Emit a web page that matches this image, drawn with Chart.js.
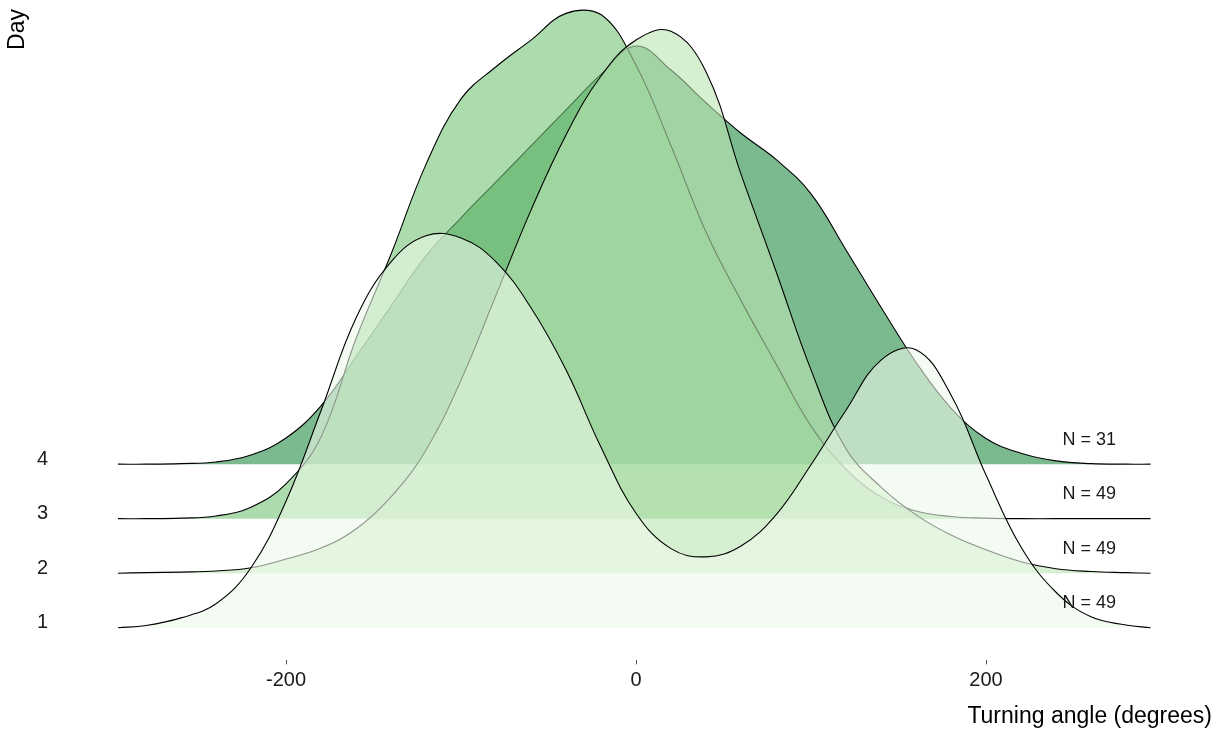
<!DOCTYPE html>
<html>
<head>
<meta charset="utf-8">
<script src="https://cdn.jsdelivr.net/npm/chart.js@4.4.1/dist/chart.umd.min.js"></script>
<style>
  html, body { margin: 0; padding: 0; background: #fff; }
  canvas { display: block; }
</style>
</head>
<body>
<canvas id="ridges" width="1225" height="733"></canvas>
<script>
// Turning angle grid (degrees) shared by every ridge
const angles = [-296, -280, -260, -240, -220, -200, -180, -160, -140, -120, -100, -80, -60, -40, -20,
                0, 20, 40, 60, 80, 100, 120, 140, 160, 180, 200, 220, 240, 260, 280, 294];

// Day categories (bottom to top)
const days = ['1', '2', '3', '4'];

// Scaled density heights above each day's baseline
const day1 = [0.0, 0.04, 0.18, 0.44, 1.10, 2.32, 3.98, 5.68, 6.71, 7.19, 7.15, 6.71, 5.87, 4.73, 3.31,
              2.10, 1.45, 1.30, 1.50, 2.07, 2.99, 3.99, 4.91, 5.10, 4.27, 2.80, 1.48, 0.65, 0.20, 0.05, 0.0];
const day2 = [0.0, 0.01, 0.02, 0.04, 0.10, 0.26, 0.46, 0.81, 1.40, 2.26, 3.54, 5.10, 6.66, 8.04, 9.12,
              9.78, 9.94, 9.20, 7.32, 5.54, 3.73, 2.28, 1.58, 1.07, 0.70, 0.43, 0.21, 0.08, 0.03, 0.01, 0.0];
const day3 = [0.0, 0.0, 0.01, 0.05, 0.21, 0.64, 1.50, 3.30, 4.85, 6.50, 7.70, 8.29, 8.78, 9.27, 9.25,
              8.32, 6.84, 5.26, 4.00, 2.84, 1.70, 0.91, 0.40, 0.14, 0.04, 0.01, 0.0, 0.0, 0.0, 0.0, 0.0];
const day4 = [0.0, 0.0, 0.01, 0.04, 0.17, 0.48, 1.07, 1.97, 2.90, 3.82, 4.52, 5.18, 5.84, 6.50, 7.15,
              7.67, 7.23, 6.63, 6.07, 5.59, 4.96, 3.93, 2.88, 1.87, 1.03, 0.47, 0.20, 0.06, 0.01, 0.0, 0.0];

// Number of observations per day
const sampleSizes = [49, 49, 49, 31];

// x-axis tick values
const xTicks = [-200, 0, 200];

const densities = [day1, day2, day3, day4];
const fillColors = [
  'rgba(237, 248, 233, 0.6)',
  'rgba(186, 228, 179, 0.6)',
  'rgba(116, 196, 118, 0.6)',
  'rgba(35, 139, 69, 0.6)'
];

const FONT = '"Liberation Sans", Arial, sans-serif';
Chart.defaults.font.family = FONT;

// Dataset 0 (day 1) is painted last, so lower ridges sit in front
const datasets = days.map((d, i) => ({
  label: 'Day ' + d,
  data: angles.map((a, j) => ({ x: a, y: i + 1 + densities[i][j] })),
  fill: { value: i + 1 },
  backgroundColor: fillColors[i],
  borderColor: '#000',
  borderWidth: 1.1,
  pointRadius: 0,
  tension: 0.4
}));

// "N = .." annotation beside each ridge
const labelAngle = 259;
const labelLift = 0.45;
const sampleLabels = {
  id: 'sampleLabels',
  afterDatasetsDraw(chart) {
    const { ctx, scales: { x, y } } = chart;
    ctx.save();
    ctx.font = '18px ' + FONT;
    ctx.fillStyle = '#1a1a1a';
    ctx.textAlign = 'center';
    ctx.textBaseline = 'middle';
    sampleSizes.forEach((n, i) => {
      ctx.fillText('N = ' + n, x.getPixelForValue(labelAngle), y.getPixelForValue(i + 1 + labelLift));
    });
    ctx.restore();
  }
};

new Chart(document.getElementById('ridges'), {
  type: 'line',
  data: { datasets },
  plugins: [sampleLabels],
  options: {
    responsive: false,
    devicePixelRatio: 1,
    animation: false,
    layout: { padding: { top: 9, right: 13, bottom: 0, left: 0 } },
    plugins: { legend: { display: false }, tooltip: { enabled: false } },
    scales: {
      x: {
        type: 'linear',
        min: -331.43,
        max: 329.14,
        afterBuildTicks: s => { s.ticks = xTicks.map(v => ({ value: v })); },
        afterFit: s => { s.height = 72.6; s.paddingLeft = 0; s.paddingRight = 0; },
        grid: { display: true, drawOnChartArea: false, drawTicks: true, tickLength: 4, color: '#555', lineWidth: 1 },
        border: { display: false },
        ticks: { padding: 4, color: '#1a1a1a', font: { size: 20 }, callback: v => String(v) },
        title: { display: true, text: 'Turning angle (degrees)', align: 'end', color: '#000',
                 font: { size: 23 }, padding: { top: 0, bottom: 3 } }
      },
      y: {
        type: 'linear',
        min: 0.4,
        max: 12.35,
        afterBuildTicks: s => { s.ticks = days.map((d, i) => ({ value: i + 1 })); },
        afterFit: s => { s.width = 56; s.paddingTop = 0; s.paddingBottom = 0; },
        grid: { display: false, drawTicks: false },
        border: { display: false },
        ticks: { padding: 8, labelOffset: -5, color: '#1a1a1a', font: { size: 20 },
                 callback: v => days[Math.round(v) - 1] },
        title: { display: true, text: 'Day', align: 'end', color: '#000',
                 font: { size: 23 }, padding: { top: 4, bottom: 0 } }
      }
    }
  }
});
</script>
</body>
</html>
